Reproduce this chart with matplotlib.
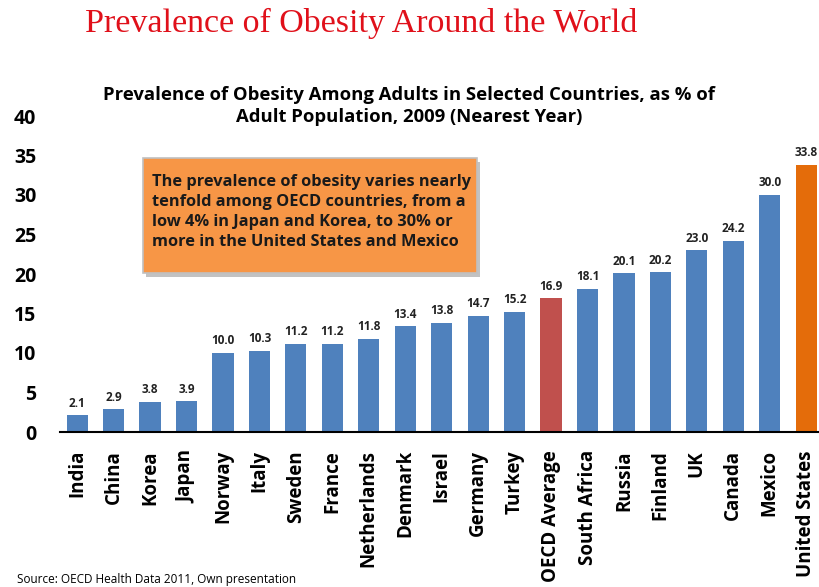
import matplotlib.pyplot as plt
from matplotlib.patches import FancyBboxPatch

countries = ['India', 'China', 'Korea', 'Japan', 'Norway', 'Italy', 'Sweden', 'France',
             'Netherlands', 'Denmark', 'Israel', 'Germany', 'Turkey', 'OECD Average',
             'South Africa', 'Russia', 'Finland', 'UK', 'Canada', 'Mexico', 'United States']
values = [2.1, 2.9, 3.8, 3.9, 10.0, 10.3, 11.2, 11.2, 11.8, 13.4, 13.8, 14.7, 15.2, 16.9,
          18.1, 20.1, 20.2, 23.0, 24.2, 30.0, 33.8]
yticks = [0, 5, 10, 15, 20, 25, 30, 35, 40]

blue = '#4F81BD'
colors = [blue] * len(countries)
colors[countries.index('OECD Average')] = '#C0504D'
colors[countries.index('United States')] = '#E46C0A'

plt.rcParams['font.family'] = ['Open Sans', 'DejaVu Sans']

fig = plt.figure(figsize=(8.19, 5.87), dpi=100)
ax = fig.add_axes([60 / 819, 1 - 432 / 587, 1 - 60 / 819, (432 - 116) / 587])

x = list(range(len(countries)))
ax.bar(x, values, width=0.58, color=colors, zorder=2)
for xi, v in zip(x, values):
    ax.annotate(f'{v:.1f}', (xi, v), xytext=(0, 4), textcoords='offset points',
                ha='center', va='bottom', fontsize=8.5, fontweight='bold', color='#222222')

ax.set_ylim(0, 40)
ax.set_xlim(-0.47, 20.35)
ax.set_yticks(yticks)
ax.set_yticklabels([str(t) for t in yticks], fontsize=14, fontweight='bold')
ax.set_xticks(x)
ax.set_xticklabels(countries, rotation=90, fontsize=13.5, fontweight='bold')
ax.tick_params(length=0)
ax.tick_params(axis='x', pad=13)
ax.tick_params(axis='y', pad=17)
for s in ['top', 'right', 'left']:
    ax.spines[s].set_visible(False)
ax.spines['bottom'].set_linewidth(1.5)

# headings
fig.text(361 / 819, 1 - 23 / 587, 'Prevalence of Obesity Around the World',
         family='Liberation Serif', fontsize=24.5, color='#E0101A', ha='center', va='center')
fig.text(409 / 819, 1 - 106 / 587,
         'Prevalence of Obesity Among Adults in Selected Countries, as % of\n'
         'Adult Population, 2009 (Nearest Year)',
         fontsize=13.3, fontweight='bold', ha='center', va='center', linespacing=1.3)

# callout box
shadow = FancyBboxPatch((146 / 819, 1 - 277 / 587), 334 / 819, 115 / 587,
                        boxstyle='square,pad=0', transform=fig.transFigure,
                        facecolor='#9a9a9a', edgecolor='none', alpha=0.6)
box = FancyBboxPatch((143 / 819, 1 - 273 / 587), 334 / 819, 115 / 587,
                     boxstyle='square,pad=0', transform=fig.transFigure,
                     facecolor='#F79646', edgecolor='#C0C0C0', linewidth=1.2)
fig.add_artist(shadow)
fig.add_artist(box)
fig.text(152 / 819, 1 - 212 / 587,
         'The prevalence of obesity varies nearly\n'
         'tenfold among OECD countries, from a\n'
         'low 4% in Japan and Korea, to 30% or\n'
         'more in the United States and Mexico',
         fontsize=11.8, fontweight='bold', ha='left', va='center', linespacing=1.35,
         color='#1a1a1a')

fig.text(17 / 819, 1 - 580 / 587, 'Source: OECD Health Data 2011, Own presentation',
         fontsize=8.5, ha='left', va='center')

fig.savefig('out.png', dpi=100)
